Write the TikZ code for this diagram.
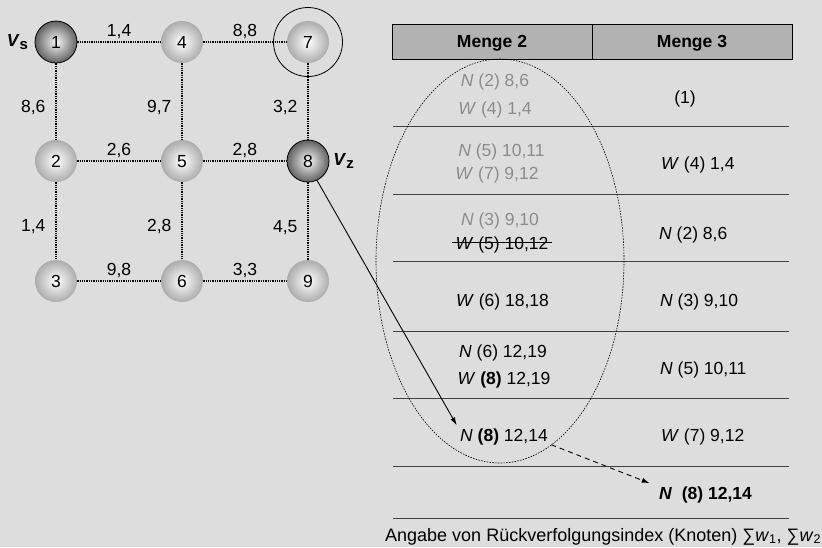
\documentclass[tikz,border=0pt]{standalone}
\usepackage{fontspec}
\setmainfont{Liberation Sans}
\usepackage{tikz}
\usetikzlibrary{arrows.meta, positioning, calc}
\definecolor{hgrund}{RGB}{221,221,221}
\definecolor{kopfgrau}{RGB}{178,178,178}
\definecolor{altgrau}{RGB}{140,140,140}
\definecolor{linie}{RGB}{64,64,64}
\newcommand{\schrift}{\fontsize{17.5}{21}\selectfont}
\newcommand{\vknoten}[1]{\textbf{\textit{V}}\raisebox{-2.5pt}{\fontsize{15}{15}\selectfont\bfseries #1}}
\tikzset{
  knoten/.style={circle, minimum size=42pt, inner sep=0pt,
    text height=12.5pt, text depth=0pt,
    shading=radial, inner color=white, outer color=gray!65},
  endknoten/.style={knoten, draw=black, line width=0.8pt,
    inner color=black!3, outer color=black!62},
  kante/.style={densely dotted, line width=1.3pt},
  gewicht/.style={inner sep=2pt, text height=12.5pt, text depth=0pt},
  kopf/.style={rectangle, draw=black, fill=kopfgrau, line width=0.9pt,
    minimum width=200pt, minimum height=35pt, font=\schrift\bfseries,
    text height=12.5pt, text depth=0pt},
  eintrag/.style={inner sep=3.3pt, text height=12.5pt, text depth=0pt},
  alt/.style={eintrag, text=altgrau},
  zeile/.style={line width=0.9pt, color=linie},
  oval/.style={line width=0.6pt, dash pattern=on 1.6pt off 1.2pt},
  pfeil/.style={-{Latex[length=8pt,width=5pt]}, line width=0.9pt},
  strpfeil/.style={pfeil, dash pattern=on 5pt off 4pt}
}

\begin{document}
\begin{tikzpicture}[x=1pt, y=-1pt, font=\schrift]
  \fill[hgrund] (0,0) rectangle (822,547);
  \useasboundingbox (0,0) rectangle (822,547);

  \node[endknoten] (k1) at (56,42) {1};
  \node[knoten] (k4) at (182,42) {4};
  \node[knoten] (k7) at (308,42) {7};
  \node[knoten] (k2) at (56,161) {2};
  \node[knoten] (k5) at (182,161) {5};
  \node[endknoten] (k8) at (308,161) {8};
  \node[knoten] (k3) at (56,281) {3};
  \node[knoten] (k6) at (182,281) {6};
  \node[knoten] (k9) at (308,281) {9};
  \node[circle, draw, line width=0.8pt, minimum size=69pt] (ring) at (k7) {};

  \node[left=3pt of k1] (vs) {\vknoten{s}};
  \node[right=0.5pt of k8] (vz) {\vknoten{z}};

  \draw[kante] (k1) -- node[above=3pt, gewicht] {1,4} (k4);
  \draw[kante] (k4) -- node[above=3pt, gewicht] {8,8} (k7);
  \draw[kante] (k2) -- node[above=3pt, gewicht] {2,6} (k5);
  \draw[kante] (k5) -- node[above=3pt, gewicht] {2,8} (k8);
  \draw[kante] (k3) -- node[above=3pt, gewicht] {9,8} (k6);
  \draw[kante] (k6) -- node[above=3pt, gewicht] {3,3} (k9);
  \draw[kante] (k1) -- node[pos=0.56, left=8pt, gewicht] {8,6} (k2);
  \draw[kante] (k2) -- node[pos=0.56, left=8pt, gewicht] {1,4} (k3);
  \draw[kante] (k4) -- node[pos=0.56, left=8pt, gewicht] {9,7} (k5);
  \draw[kante] (k5) -- node[pos=0.56, left=8pt, gewicht] {2,8} (k6);
  \draw[kante] (k7) -- node[pos=0.56, left=8pt, gewicht] {3,2} (k8);
  \draw[kante] (k8) -- node[pos=0.56, left=8pt, gewicht] {4,5} (k9);

  \node[kopf] (kopf2) at (492,41.5) {Menge 2};
  \node[kopf] (kopf3) at (692,41.5) {Menge 3};
  \foreach \y in {126,194,261,331,398,466,518}
    \draw[zeile] (393,\y) -- (789,\y);

  \node[alt] (a1) at (495,80.3) {\textit{N} (2) 8,6};
  \node[alt] (a2) at (495,108.3) {\textit{W} (4) 1,4};
  \node[alt] (a3) at (501.5,150) {\textit{N} (5) 10,11};
  \node[alt] (a4) at (497,172.8) {\textit{W} (7) 9,12};
  \node[alt] (a5) at (500,219) {\textit{N} (3) 9,10};
  \node[eintrag] (w5) at (502,243.3) {\textit{W} (5) 10,12};
  \draw[line width=0.9pt] ([yshift=1pt]w5.west) -- ([yshift=1pt]w5.east);
  \node[eintrag] (w6) at (502.5,300) {\textit{W} (6) 18,18};
  \node[eintrag] (n6) at (503,351.7) {\textit{N} (6) 12,19};
  \node[eintrag] (w8) at (504,378.3) {\textit{W} \textbf{(8)} 12,19};
  \node[eintrag] (n8) at (504,435) {\textit{N} \textbf{(8)} 12,14};

  \node[eintrag] (s1) at (685,97.7) {(1)};
  \node[eintrag, anchor=west] (s2) at (657.7,163.3) {\textit{W} (4) 1,4};
  \node[eintrag, anchor=west] (s3) at (655.7,233.3) {\textit{N} (2) 8,6};
  \node[eintrag, anchor=west] (s4) at (656.7,300) {\textit{N} (3) 9,10};
  \node[eintrag, anchor=west] (s5) at (656.7,368.3) {\textit{N} (5) 10,11};
  \node[eintrag, anchor=west] (s6) at (657.7,435) {\textit{W} (7) 9,12};
  \node[eintrag, anchor=west, font=\schrift\bfseries] (ziel) at (655.7,493)
    {\textit{N}\ \ (8) 12,14};

  \draw[oval] (500,261) ellipse [x radius=124, y radius=202];

  \draw[pfeil] (k8.-65) -- (n8.north west);
  \draw[strpfeil] (n8.south east) -- ([xshift=-6pt]ziel.north west);

  \node[anchor=base west, inner sep=0pt, font=\fontsize{18}{21}\selectfont] (angabe) at (385,541)
    {Angabe von Rückverfolgungsindex (Knoten) ∑\textit{w}\textsubscript{1}, ∑\textit{w}\textsubscript{2}};
\end{tikzpicture}
\end{document}
